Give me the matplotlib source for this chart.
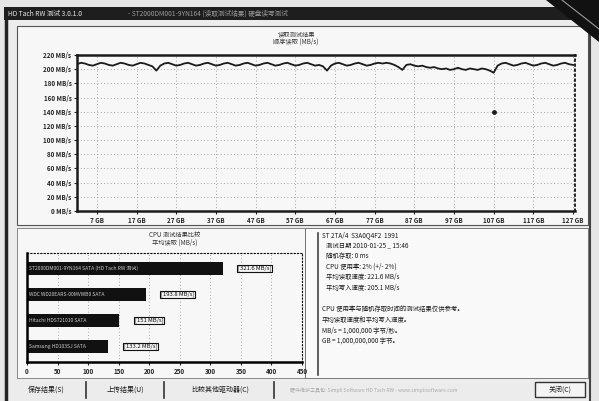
import numpy as np
import matplotlib
matplotlib.use("Agg")
import matplotlib.pyplot as plt
from matplotlib.patches import Rectangle, Polygon

plt.rcParams["font.family"] = ["Noto Sans CJK SC", "DejaVu Sans"]

# ---- data ----
read_gb = list(range(2, 128))
read_speed = [
    207, 209, 208, 206, 205, 207, 209, 208, 206,
    205, 207, 209, 208, 206, 205, 207, 209, 208, 206,
    204, 198, 205, 208, 209, 207, 205, 206, 208, 209,
    207, 205, 206, 208, 209, 207, 205, 206, 208, 209,
    207, 205, 206, 208, 209, 207, 205, 206, 208, 209,
    207, 205, 206, 208, 209, 207, 205, 206, 208, 209,
    207, 205, 206, 204, 198, 205, 208, 209, 207, 205,
    206, 208, 209, 207, 205, 206, 208, 209, 208, 209,
    208, 206, 203, 199, 206, 207, 205, 204, 205, 203,
    202, 203, 201, 200, 201, 199, 200, 202, 200, 199,
    201, 200, 199, 201, 200, 198, 195, 205, 208, 209,
    207, 205, 206, 208, 209, 207, 205, 206, 208, 209,
    207, 205, 206, 208, 209, 207, 206,
]
access_gb = [107]
access_val = [140]

y_ticks = list(range(0, 221, 20))
x_ticks = list(range(7, 128, 10))

bar_names = [
    "ST2000DM001-9YN164 SATA (HD Tach RW 测试)",
    "WDC WD20EARS-00MVWB0 SATA",
    "Hitachi HDS721010 SATA",
    "Samsung HD103SJ SATA",
]
bar_values = [320, 194, 151, 133]
bar_labels = ["[321.6 MB/s]", "[193.8 MB/s]", "[151 MB/s]", "[133.2 MB/s]"]
bar_ticks = list(range(0, 451, 50))

info_lines = [
    "ST 2TA/4  S3A0Q4F2  1991",
    "测试日期 2010-01-25 _ 15:46",
    "随机存取: 0 ms",
    "CPU 使用率: 2% (+/- 2%)",
    "平均读取速度: 221.6 MB/s",
    "平均写入速度: 205.1 MB/s",
    "",
    "CPU 使用率与随机存取时间的测试结果仅供参考。",
    "平均读取速度和平均写入速度。",
    "MB/s = 1,000,000 字节/秒。",
    "GB = 1,000,000,000 字节。",
]

W, H = 599, 401


def px_rect(x0, y0, x1, y1):
    return [x0 / W, 1 - y1 / H, (x1 - x0) / W, (y1 - y0) / H]


fig = plt.figure(figsize=(W / 100, H / 100), dpi=100)
fig.patch.set_facecolor("#e6e6e6")

# background / window chrome in pixel coordinates
bg = fig.add_axes([0, 0, 1, 1], zorder=0)
bg.set_xlim(0, W)
bg.set_ylim(H, 0)
bg.axis("off")

bg.add_patch(Rectangle((5, 20), 585, 381, fc="#ececec", ec="none"))
bg.plot([6, 6], [20, 401], color="#222222", lw=2.5)
bg.plot([590, 590], [20, 401], color="#444444", lw=1.5)
# panels
bg.add_patch(Rectangle((17, 26), 571, 199, fc="#f7f7f7", ec="#555555", lw=0.8))
bg.add_patch(Rectangle((17, 228), 288, 150, fc="#f7f7f7", ec="#777777", lw=0.6))
bg.add_patch(Rectangle((305, 228), 283, 150, fc="#f9f9f9", ec="#666666", lw=0.6))
bg.plot([318, 318], [233, 375], color="#444444", lw=1.2)

# chart titles
bg.text(296, 34, "读取测试结果", ha="center", va="center", fontsize=4.5, color="#333333")
bg.text(296, 42, "顺序读取 (MB/s)", ha="center", va="center", fontsize=4.5, color="#333333")
bg.text(175, 235, "CPU 测试结果比较", ha="center", va="center", fontsize=4.5, color="#333333")
bg.text(175, 243, "平均读取 (MB/s)", ha="center", va="center", fontsize=4.5, color="#333333")

# info text
for i, line in enumerate(info_lines):
    x = 322 if i == 0 or i >= 7 else 326
    bg.text(x, 235 + i * 10.6, line, ha="left", va="center", fontsize=4.6, color="#1a1a1a")

# bottom buttons
buttons = [(10, 82, "保存结果(S)"), (90, 160, "上传结果(U)"), (170, 270, "比较其他驱动器(C)")]
for x0, x1, lab in buttons:
    bg.text((x0 + x1) / 2, 390, lab, ha="center", va="center", fontsize=5, color="#1a1a1a")
    bg.plot([x1 + 4, x1 + 4], [382, 398], color="#333333", lw=1.2)
bg.text(290, 390, "硬件维护工具包: Simpli Software HD Tach RW - www.simplisoftware.com",
        ha="left", va="center", fontsize=3.6, color="#aaaaaa")
bg.add_patch(Rectangle((535, 382), 50, 15, fc="#f4f4f4", ec="#333333", lw=1))
bg.text(560, 389.5, "关闭(C)", ha="center", va="center", fontsize=5, color="#1a1a1a")

# ---- top chart: read speed ----
ax = fig.add_axes(px_rect(77, 55, 575, 211), zorder=2)
ax.set_facecolor("#f7f7f7")
ax.plot(read_gb, read_speed, color="#1a1a1a", lw=1.3)
ax.scatter(access_gb, access_val, s=6, color="#1a1a1a", zorder=3)
ax.set_xlim(2, 127.5)
ax.set_ylim(0, 220)
ax.set_yticks(y_ticks)
ax.set_yticklabels([f"{v} MB/s" for v in y_ticks], fontweight="bold")
ax.set_xticks(x_ticks)
ax.set_xticklabels([f"{v} GB" for v in x_ticks], fontweight="bold")
ax.grid(True, color="#888888", lw=0.6, ls=(0, (1, 3)))
ax.tick_params(axis="both", labelsize=4.5, length=2, width=0.8, colors="#222222", pad=2)
for side in ["left", "bottom", "top"]:
    ax.spines[side].set_linewidth(1.8)
    ax.spines[side].set_color("#1a1a1a")
ax.spines["right"].set_linestyle((0, (1, 2)))
ax.spines["right"].set_linewidth(1.2)

# ---- bottom-left: comparison bars ----
bx = fig.add_axes(px_rect(27, 253, 302, 362), zorder=2)
bx.set_facecolor("#f7f7f7")
ypos = list(range(len(bar_values)))
bx.barh(ypos, bar_values, height=0.52, color="#111111")
for y, v, name, lab in zip(ypos, bar_values, bar_names, bar_labels):
    bx.text(4, y, name, ha="left", va="center", fontsize=3.6, color="#cccccc")
    bx.text(v + 25, y, lab, ha="left", va="center", fontsize=4.2, color="#111111",
            bbox=dict(boxstyle="square,pad=0.15", fc="#f4f4f4", ec="#111111", lw=0.8))
bx.set_ylim(3.6, -0.6)
bx.set_xlim(0, 450)
bx.set_xticks(bar_ticks)
bx.set_xticklabels([str(v) for v in bar_ticks], fontweight="bold")
bx.set_yticks([])
bx.tick_params(axis="x", labelsize=4.5, length=2, pad=2, colors="#222222")
bx.grid(True, axis="x", color="#888888", lw=0.6, ls=(0, (1, 3)))
bx.set_axisbelow(True)
for side in ["left", "bottom"]:
    bx.spines[side].set_linewidth(1.8)
for side in ["top", "right"]:
    bx.spines[side].set_linewidth(0.8)
    bx.spines[side].set_linestyle((0, (1, 2)))

# overlay: title bar and corner fold
ov = fig.add_axes([0, 0, 1, 1], zorder=5)
ov.set_xlim(0, W)
ov.set_ylim(H, 0)
ov.axis("off")
ov.patch.set_alpha(0)
ov.add_patch(Rectangle((4, 7), 570, 13, fc="#1e1e1e", ec="none"))
ov.text(8, 13.5, "HD Tach RW 测试 3.0.1.0", ha="left", va="center", fontsize=4.8, color="#e8e8e8")
ov.text(128, 13.5, "- ST2000DM001-9YN164 (读取测试结果) 硬盘读写测试", ha="left", va="center",
        fontsize=4.8, color="#9a9a9a")
ov.add_patch(Polygon([(546, 0), (599, 0), (599, 42)], closed=True, fc="#111111", ec="none"))
ov.plot([562, 599], [0, 29], color="#9a9a9a", lw=0.8)

fig.savefig("out.png", dpi=100, facecolor=fig.get_facecolor())
